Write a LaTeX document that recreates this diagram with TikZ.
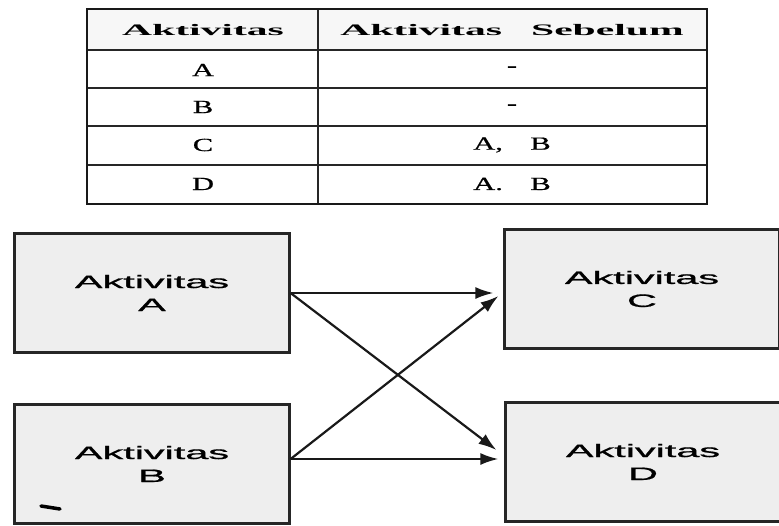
\documentclass[tikz,border=0pt]{standalone}
\usepackage{fontspec}
\setmainfont{Liberation Serif}
\newfontfamily\boxfont[FakeBold=0.8]{Liberation Sans}
\newfontfamily\cellfont[FakeBold=0.6]{Liberation Serif}
\usetikzlibrary{arrows.meta}
% horizontally widened text
\newcommand\widetxt[2]{\scalebox{#1}[1]{#2}}

\begin{document}
\begin{tikzpicture}[x=1pt,y=-1pt,
  actbox/.style={draw=black!85, line width=2.2pt, fill=gray!13,
    minimum width=275pt, minimum height=119pt, align=center, inner sep=0pt,
    font=\boxfont\fontsize{18}{23}\selectfont},
  flow/.style={draw=black!90, line width=2.2pt, -{Latex[length=18pt,width=12pt]}},
  cell/.style={inner sep=0pt, font=\cellfont\fontsize{18.5}{20}\selectfont},
  headcell/.style={inner sep=0pt, font=\bfseries\fontsize{16}{18}\selectfont},
  outer/.style={draw=black!90, line width=2.8pt},
  rule/.style={draw=black!85, line width=1.6pt}
]
\useasboundingbox (0,0) rectangle (779,525);

% ---- precedence table ----
\fill[gray!6] (87,9) rectangle (707,50);
\draw[rule] (87,50) -- (707,50);
\draw[rule] (87,88) -- (707,88);
\draw[rule] (87,126) -- (707,126);
\draw[rule] (87,165) -- (707,165);
\draw[rule] (318,9) -- (318,204);
\draw[outer] (87,9) rectangle (707,204);

\node[headcell] (h1) at (203,30) {\widetxt{2.6}{Aktivitas}};
\node[headcell] (h2) at (512,30) {\widetxt{2.6}{Aktivitas\hspace{0.7em}Sebelum}};

\node[cell] (r1a) at (203,70) {\widetxt{1.65}{A}};
\node[cell] (r1b) at (512,69) {\widetxt{1.65}{-}};
\node[cell] (r2a) at (203,107) {\widetxt{1.65}{B}};
\node[cell] (r2b) at (512,107) {\widetxt{1.65}{-}};
\node[cell] (r3a) at (203,145) {\widetxt{1.65}{C}};
\node[cell] (r3b) at (512,145) {\widetxt{1.65}{A,\hspace{0.9em}B}};
\node[cell] (r4a) at (203,184) {\widetxt{1.65}{D}};
\node[cell] (r4b) at (512,184) {\widetxt{1.65}{A.\hspace{0.9em}B}};

% ---- activity network ----
\node[actbox] (A) at (152,293) {\widetxt{2.3}{Aktivitas}\\\widetxt{2.3}{A}};
\node[actbox] (B) at (152,464) {\widetxt{2.3}{Aktivitas}\\\widetxt{2.3}{B}};
\node[actbox] (C) at (642,289) {\widetxt{2.3}{Aktivitas}\\\widetxt{2.3}{C}};
\node[actbox] (D) at (643,462) {\widetxt{2.3}{Aktivitas}\\\widetxt{2.3}{D}};

\coordinate (bout) at ([yshift=5pt]B.east);
\coordinate (ac) at ([xshift=-10pt]C.west |- A.east);
\coordinate (bc) at ([xshift=-5pt,yshift=-7pt]C.west);
\coordinate (ad) at ([xshift=-8pt,yshift=12pt]D.west);
\coordinate (bd) at ([xshift=-6pt]D.west |- bout);

\draw[flow] (A.east) -- (ac);
\draw[flow] (A.east) -- (ad);
\draw[flow] (bout) -- (bc);
\draw[flow] (bout) -- (bd);

% small mark inside box B
\draw[line width=3.5pt, line cap=round] (41,506) -- (60,509);
\end{tikzpicture}
\end{document}
